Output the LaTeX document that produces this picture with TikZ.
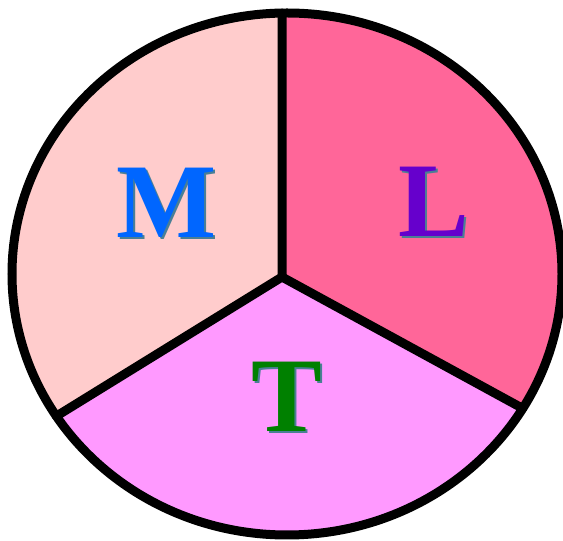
\documentclass[tikz,border=0pt]{standalone}
\usepackage{fontspec}
\setmainfont{Liberation Serif}
\definecolor{mfill}{HTML}{FFCCCC}
\definecolor{lfill}{HTML}{FF6699}
\definecolor{tfill}{HTML}{FF99FF}
\definecolor{mtext}{HTML}{0066FF}
\definecolor{ltext}{HTML}{6600CC}
\definecolor{ttext}{HTML}{008000}
\definecolor{shadowc}{HTML}{4A7F95}
\newcommand{\shadowletter}[2]{\rlap{\hspace{2pt}\raisebox{-1.5pt}{\textcolor{shadowc}{#2}}}\textcolor{#1}{#2}}
\tikzset{
  border/.style={line width=9pt, draw=black},
  spoke/.style={line width=9pt, draw=black, line cap=round, line join=round},
  letter/.style={inner sep=0pt, font=\bfseries\fontsize{106pt}{106pt}\selectfont},
}
\begin{document}
\begin{tikzpicture}[x=1pt,y=1pt]
\useasboundingbox (0,0) rectangle (563,541);
\coordinate (C) at (287,267);
\coordinate (J) at (282,264);
\path (C) ++(91:275pt and 261pt) coordinate (Ptop);
\path (C) ++(213:275pt and 261pt) coordinate (Pl);
\path (C) ++(-31:275pt and 261pt) coordinate (Pr);
% sectors
\fill[mfill] (J) -- (Ptop) arc[start angle=91,end angle=213,x radius=275pt,y radius=261pt] -- cycle;
\fill[lfill] (J) -- (Pr) arc[start angle=-31,end angle=91,x radius=275pt,y radius=261pt] -- cycle;
\fill[tfill] (J) -- (Pl) arc[start angle=213,end angle=329,x radius=275pt,y radius=261pt] -- cycle;
% outline and spokes
\draw[border] (C) ellipse[x radius=275pt, y radius=261pt];
\draw[spoke] (Ptop) -- (J) -- (Pl);
\draw[spoke] (J) -- (Pr);
% letters with shadows
\node[letter] (M) at (167,337) {\shadowletter{mtext}{M}};
\node[letter] (L) at (434,338) {\shadowletter{ltext}{L}};
\node[letter] (T) at (287,143) {\shadowletter{ttext}{T}};
\end{tikzpicture}
\end{document}
